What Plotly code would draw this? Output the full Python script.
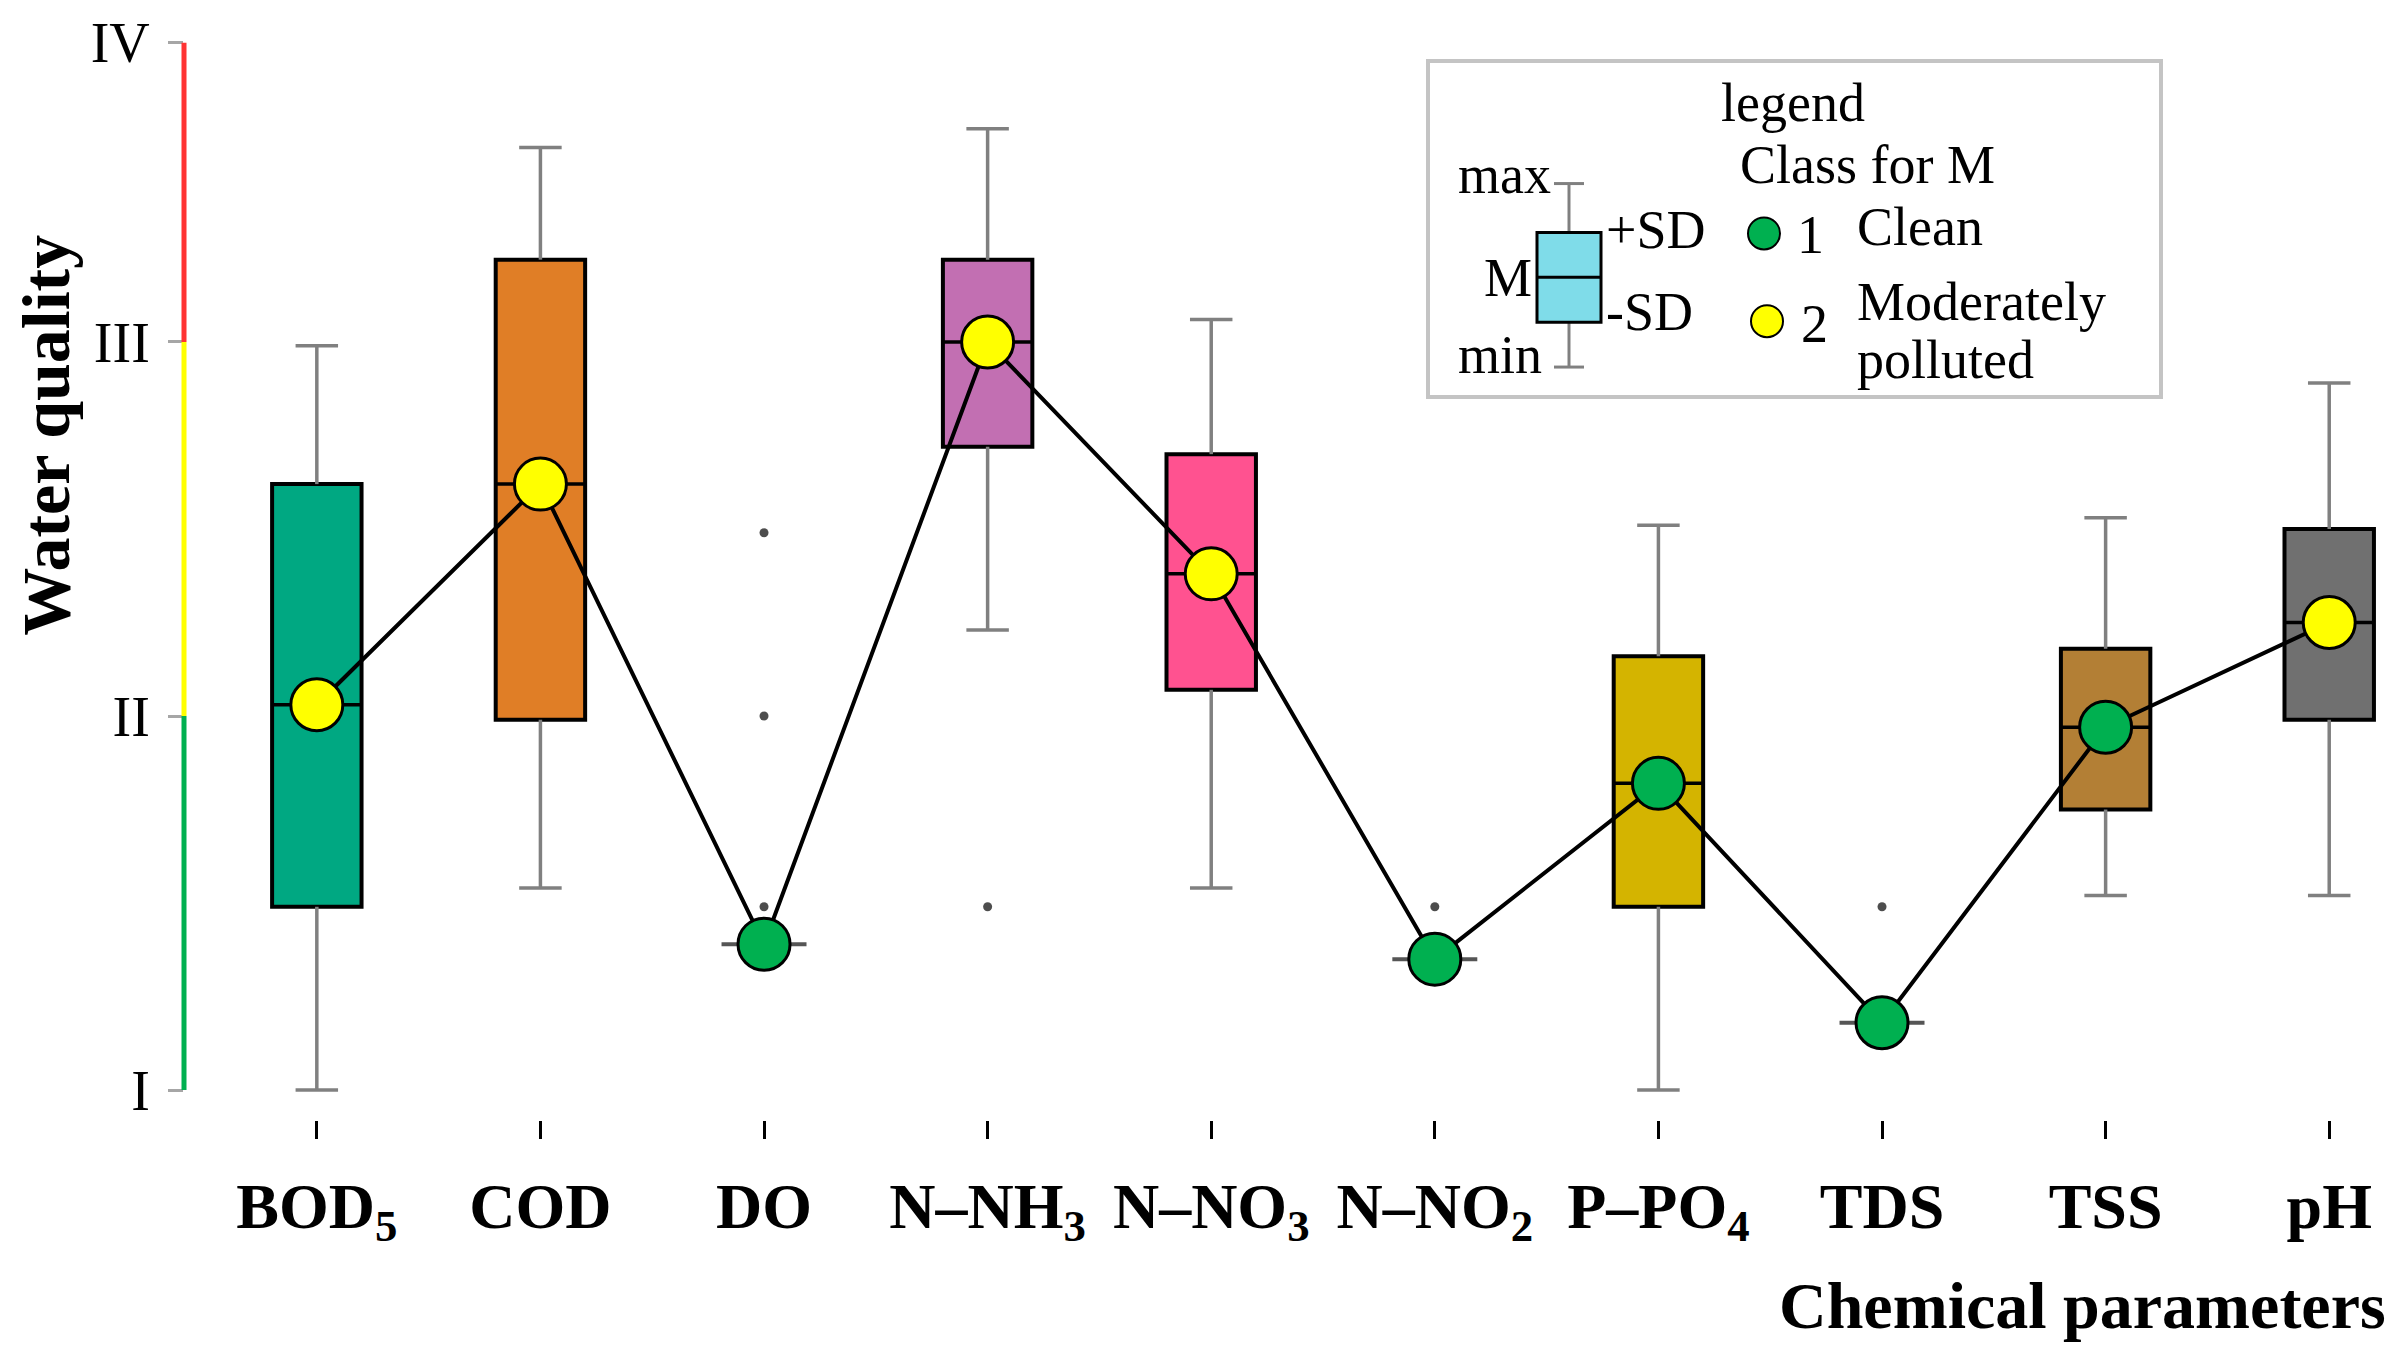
import plotly.graph_objects as go

# ---------------- data ----------------
categories = ["BOD<sub>5</sub>", "COD", "DO", "N–NH<sub>3</sub>", "N–NO<sub>3</sub>",
              "N–NO<sub>2</sub>", "P–PO<sub>4</sub>", "TDS", "TSS", "pH"]
mean_vals = [2.03, 2.62, 1.39, 3.00, 2.38, 1.35, 1.82, 1.18, 1.97, 2.25]
plus_sd   = [2.62, 3.22, None, 3.22, 2.70, None, 2.16, None, 2.18, 2.50]
minus_sd  = [1.49, 1.99, None, 2.72, 2.07, None, 1.49, None, 1.75, 1.99]
max_vals  = [2.99, 3.52, None, 3.57, 3.06, None, 2.51, None, 2.53, 2.89]
min_vals  = [1.00, 1.54, None, 2.23, 1.54, None, 1.00, None, 1.52, 1.52]
mean_class = [2, 2, 1, 2, 2, 1, 1, 1, 1, 2]
outlier_cat = [2, 2, 2, 3, 5, 7]
outlier_val = [2.49, 2.00, 1.49, 1.49, 1.49, 1.49]
box_colors = ["#00a882", "#e07e26", "#888888", "#c26fb2", "#ff5290",
              "#888888", "#d4b400", "#888888", "#b37f35", "#707070"]
y_tick_vals = [1, 2, 3, 3.8]
y_tick_text = ["I", "II", "III", "IV"]
class_colors = {1: "#00b050", 2: "#ffff00"}

SERIF = "Liberation Serif, Times New Roman, serif"

# ---------------- layout geometry (page pixels) ----------------
FW, FH = 2403, 1364
L, R, T, B = 184, 2390, 21, 1120   # plot area in page pixels
PW, PH = R - L, B - T


def px(x):
    return (x - L) / PW


def py(y):
    return (B - y) / PH


idx = list(range(len(categories)))
has_box = [i for i in idx if plus_sd[i] is not None]
flat = [i for i in idx if plus_sd[i] is None]

fig = go.Figure()

# boxes (mean ± SD)
fig.add_trace(go.Bar(
    x=has_box,
    y=[plus_sd[i] - minus_sd[i] for i in has_box],
    base=[minus_sd[i] for i in has_box],
    width=0.4,
    marker=dict(color=[box_colors[i] for i in has_box],
                line=dict(color="black", width=4)),
    hoverinfo="skip",
))

# whiskers with caps
wx, wy = [], []
cap = 0.095
for i in has_box:
    wx += [i, i, None, i - cap, i + cap, None]
    wy += [plus_sd[i], max_vals[i], None, max_vals[i], max_vals[i], None]
    wx += [i, i, None, i - cap, i + cap, None]
    wy += [minus_sd[i], min_vals[i], None, min_vals[i], min_vals[i], None]
fig.add_trace(go.Scatter(x=wx, y=wy, mode="lines",
                         line=dict(color="#808080", width=3.5), hoverinfo="skip"))

# mean lines inside boxes
mx, my = [], []
for i in has_box:
    mx += [i - 0.2, i + 0.2, None]
    my += [mean_vals[i], mean_vals[i], None]
fig.add_trace(go.Scatter(x=mx, y=my, mode="lines",
                         line=dict(color="black", width=3.5), hoverinfo="skip"))

# flat boxes (no spread)
fx, fy = [], []
for i in flat:
    fx += [i - 0.19, i + 0.19, None]
    fy += [mean_vals[i], mean_vals[i], None]
fig.add_trace(go.Scatter(x=fx, y=fy, mode="lines",
                         line=dict(color="#555555", width=4), hoverinfo="skip"))

# outliers
fig.add_trace(go.Scatter(x=outlier_cat, y=outlier_val, mode="markers",
                         marker=dict(color="#4d4d4d", size=9), hoverinfo="skip"))

# mean line + class markers
fig.add_trace(go.Scatter(
    x=idx, y=mean_vals, mode="lines+markers",
    line=dict(color="black", width=4),
    marker=dict(size=52, color=[class_colors[c] for c in mean_class],
                line=dict(color="black", width=3)),
    hoverinfo="skip",
))

shapes = []
# coloured y axis line
for y0, y1, col in [(1, 2, "#00b050"), (2, 3, "#ffff00"), (3, 3.8, "#ff3333")]:
    shapes.append(dict(type="line", xref="paper", yref="y", x0=0, x1=0, y0=y0, y1=y1,
                       line=dict(color=col, width=5), layer="above"))

# legend box
shapes.append(dict(type="rect", xref="paper", yref="paper",
                   x0=px(1428), x1=px(2161), y0=py(395), y1=py(58),
                   line=dict(color="#c4c4c4", width=4), fillcolor="white", layer="above"))
# mini box plot in legend
bx0, bx1, bxc = 1537, 1601, 1569
shapes += [
    dict(type="line", xref="paper", yref="paper", x0=px(bxc), x1=px(bxc), y0=py(181), y1=py(230),
         line=dict(color="#808080", width=3), layer="above"),
    dict(type="line", xref="paper", yref="paper", x0=px(bxc), x1=px(bxc), y0=py(320), y1=py(365),
         line=dict(color="#808080", width=3), layer="above"),
    dict(type="line", xref="paper", yref="paper", x0=px(bxc - 15), x1=px(bxc + 15), y0=py(181), y1=py(181),
         line=dict(color="#808080", width=3), layer="above"),
    dict(type="line", xref="paper", yref="paper", x0=px(bxc - 15), x1=px(bxc + 15), y0=py(365), y1=py(365),
         line=dict(color="#808080", width=3), layer="above"),
    dict(type="rect", xref="paper", yref="paper", x0=px(bx0), x1=px(bx1), y0=py(320), y1=py(230),
         fillcolor="#7fdce9", line=dict(color="black", width=3), layer="above"),
    dict(type="line", xref="paper", yref="paper", x0=px(bx0), x1=px(bx1), y0=py(275), y1=py(275),
         line=dict(color="black", width=3), layer="above"),
]
# legend class markers
for cx, cy, col in [(1764, 231, "#00b050"), (1767, 319, "#ffff00")]:
    shapes.append(dict(type="circle", xref="paper", yref="paper",
                       x0=px(cx - 16), x1=px(cx + 16), y0=py(cy + 16), y1=py(cy - 16),
                       fillcolor=col, line=dict(color="black", width=2), layer="above"))

annotations = []


def txt(text, x, y, xanchor="center", size=54, bold=False, angle=0):
    annotations.append(dict(
        text=("<b>%s</b>" % text) if bold else text,
        xref="paper", yref="paper", x=px(x), y=py(y),
        xanchor=xanchor, yanchor="middle", showarrow=False, textangle=angle,
        font=dict(family=SERIF, size=size, color="black"),
    ))


txt("legend", 1793, 100)
txt("Class for M", 1867, 162)
txt("max", 1553, 172, xanchor="right")
txt("M", 1534, 276, xanchor="right")
txt("min", 1544, 353, xanchor="right")
txt("+SD", 1604, 228, xanchor="left")
txt("-SD", 1604, 310, xanchor="left")
txt("1", 1810, 233)
txt("Clean", 1855, 225, xanchor="left")
txt("2", 1814, 322)
txt("Moderately", 1855, 300, xanchor="left")
txt("polluted", 1855, 358, xanchor="left")

txt("Chemical parameters", 2388, 1306, xanchor="right", size=66, bold=True)
txt("Water quality", 46, 434, size=68, bold=True, angle=-90)

fig.update_layout(
    width=FW, height=FH,
    margin=dict(l=L, r=FW - R, t=T, b=FH - B, pad=0),
    paper_bgcolor="white", plot_bgcolor="white",
    showlegend=False,
    shapes=shapes,
    annotations=annotations,
    xaxis=dict(
        range=[-0.594, (R - L) / 223.6 - 0.594],
        tickvals=idx, ticktext=["<b>%s</b>" % c for c in categories],
        ticks="outside", ticklen=18, tickwidth=2.5, tickcolor="black",
        showline=False, showgrid=False, zeroline=False,
        tickfont=dict(family=SERIF, size=64, color="black"),
        ticklabelstandoff=12,
    ),
    yaxis=dict(
        range=[0.92, 3.85],
        tickvals=y_tick_vals, ticktext=y_tick_text,
        ticks="outside", ticklen=15, tickwidth=2.5, tickcolor="#a6a6a6",
        showline=False, showgrid=False, zeroline=False,
        tickfont=dict(family=SERIF, size=56, color="black"),
        ticklabelstandoff=7,
    ),
)

# remove the default 8px body margin so the figure fills the window exactly
fig.write_html(
    "out.html",
    config={"displayModeBar": False},
    post_script="document.body.style.margin='0';document.body.style.overflow='hidden';",
)
